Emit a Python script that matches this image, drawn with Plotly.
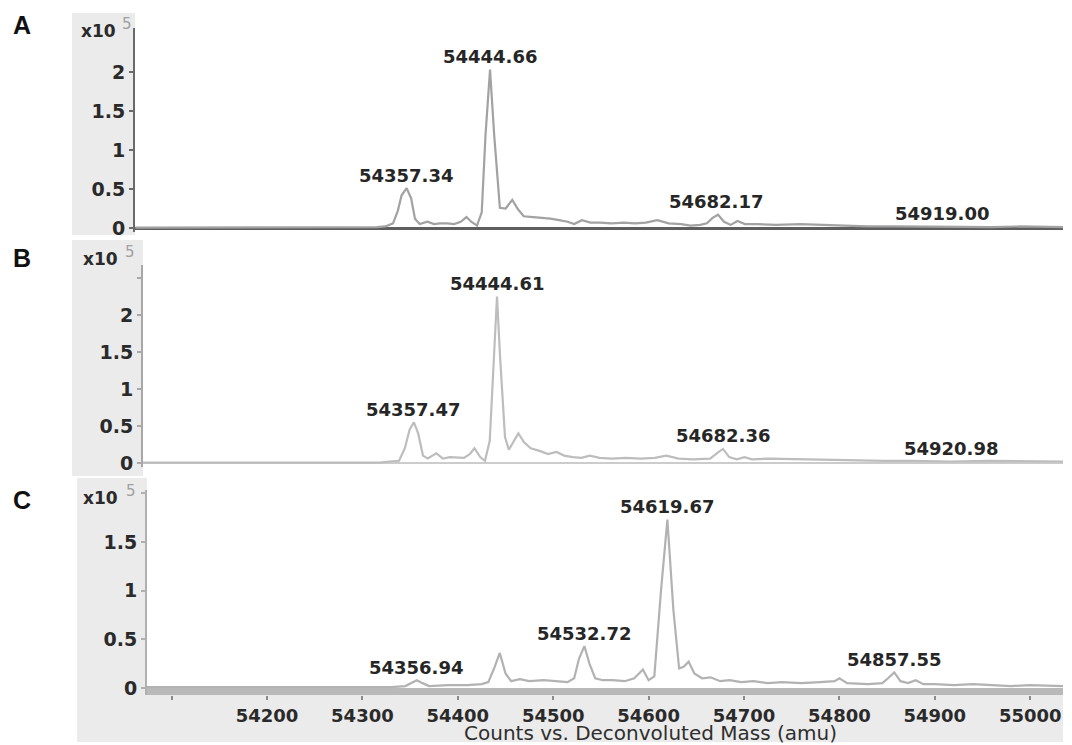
import plotly.graph_objects as go

# ---------------- data (mass in amu, counts in units of 1e5) ----------------
A_mass = [54073, 54200, 54300, 54326, 54335, 54343, 54348, 54352, 54357.3, 54362, 54366, 54371,
          54379, 54386, 54392, 54400, 54407, 54414, 54420, 54425, 54431, 54436, 54440, 54444.7,
          54449, 54455, 54461, 54468, 54474, 54480, 54490, 54500, 54508, 54517, 54526, 54533,
          54541, 54550, 54560, 54572, 54585, 54597, 54608, 54620, 54632, 54645, 54655, 54665,
          54672, 54678, 54683.7, 54690, 54697, 54704, 54712, 54725, 54745, 54770, 54800, 54815,
          54840, 54870, 54900, 54919, 54940, 54970, 55000, 55046]
A_int = [0.005, 0.005, 0.005, 0.01, 0.02, 0.06, 0.22, 0.42, 0.51, 0.38, 0.12, 0.05,
         0.08, 0.05, 0.06, 0.06, 0.05, 0.08, 0.14, 0.08, 0.03, 0.2, 1.2, 2.03,
         1.2, 0.26, 0.25, 0.36, 0.24, 0.15, 0.14, 0.13, 0.12, 0.1, 0.08, 0.05,
         0.1, 0.07, 0.07, 0.06, 0.07, 0.06, 0.07, 0.1, 0.06, 0.05, 0.03, 0.04,
         0.06, 0.13, 0.17, 0.08, 0.04, 0.09, 0.05, 0.05, 0.04, 0.05, 0.04, 0.03,
         0.02, 0.02, 0.015, 0.02, 0.015, 0.01, 0.02, 0.01]

B_mass = [54073, 54200, 54322, 54332, 54342, 54348, 54353, 54357.5, 54362, 54367, 54372, 54381,
          54388, 54395, 54403, 54410, 54416, 54421, 54427, 54432, 54437, 54441, 54444.6, 54448,
          54453, 54457, 54462, 54467, 54473, 54480, 54490, 54498, 54507, 54515, 54524, 54533,
          54542, 54552, 54565, 54580, 54595, 54610, 54622, 54635, 54650, 54668, 54676, 54681.5,
          54688, 54696, 54704, 54712, 54730, 54760, 54790, 54820, 54850, 54880, 54920, 54960,
          55000, 55040]
B_int = [0.005, 0.005, 0.005, 0.02, 0.03, 0.2, 0.45, 0.55, 0.4, 0.1, 0.06, 0.13,
         0.06, 0.08, 0.08, 0.07, 0.12, 0.2, 0.08, 0.03, 0.3, 1.4, 2.25, 1.4,
         0.35, 0.18, 0.3, 0.4, 0.28, 0.2, 0.16, 0.12, 0.15, 0.1, 0.08, 0.07,
         0.1, 0.07, 0.06, 0.07, 0.06, 0.07, 0.1, 0.06, 0.05, 0.06, 0.14, 0.19,
         0.08, 0.05, 0.08, 0.05, 0.06, 0.05, 0.05, 0.04, 0.03, 0.03, 0.02, 0.03,
         0.02, 0.02]

C_mass = [54074, 54200, 54330, 54345, 54352, 54357, 54363, 54370, 54390, 54410, 54425, 54432,
          54438, 54444, 54450, 54456, 54465, 54475, 54490, 54505, 54515, 54522, 54527, 54532.7,
          54538, 54544, 54552, 54562, 54575, 54585, 54594, 54600, 54606, 54613, 54619.7, 54626,
          54632, 54637, 54642, 54648, 54656, 54665, 54675, 54685, 54697, 54710, 54725, 54740,
          54760, 54780, 54795, 54800, 54808, 54830, 54845, 54851, 54857.5, 54864, 54872, 54880,
          54888, 54900, 54920, 54940, 54960, 54980, 55000, 55035]
C_int = [0.01, 0.01, 0.01, 0.02, 0.06, 0.08, 0.05, 0.02, 0.03, 0.03, 0.04, 0.06,
         0.2, 0.36, 0.15, 0.07, 0.09, 0.07, 0.08, 0.07, 0.06, 0.1, 0.3, 0.43,
         0.25, 0.1, 0.08, 0.08, 0.07, 0.1, 0.19, 0.08, 0.12, 1.0, 1.73, 0.8,
         0.2, 0.22, 0.27, 0.15, 0.1, 0.11, 0.07, 0.08, 0.06, 0.07, 0.05, 0.06,
         0.05, 0.06, 0.07, 0.1, 0.05, 0.04, 0.05, 0.1, 0.16, 0.07, 0.05, 0.08,
         0.04, 0.04, 0.03, 0.04, 0.03, 0.02, 0.03, 0.02]

A_labels = ["54357.34", "54444.66", "54682.17", "54919.00"]
A_label_mass = [54357.34, 54444.66, 54682.17, 54919.00]
A_label_h = [0.51, 2.03, 0.17, 0.02]
B_labels = ["54357.47", "54444.61", "54682.36", "54920.98"]
B_label_mass = [54357.47, 54444.61, 54682.36, 54920.98]
B_label_h = [0.55, 2.25, 0.19, 0.02]
C_labels = ["54356.94", "54532.72", "54619.67", "54857.55"]
C_label_mass = [54356.94, 54532.72, 54619.67, 54857.55]
C_label_h = [0.08, 0.43, 1.73, 0.16]

x_tick_vals = [54100, 54200, 54300, 54400, 54500, 54600, 54700, 54800, 54900, 55000]
x_tick_text = ["", "54200", "54300", "54400", "54500", "54600", "54700", "54800", "54900", "55000"]
panel_letters = ["A", "B", "C"]
x_title = "Counts vs. Deconvoluted Mass (amu)"

# ---------------- layout geometry (pixels) ----------------
W, H = 1072, 745
SCALE = 0.954  # px per amu


def px(x):
    return x / W


def py(y):
    return 1 - y / H


def xrange_for(left, right, ref_px, ref_mass):
    return [ref_mass + (left - ref_px) / SCALE, ref_mass + (right - ref_px) / SCALE]


panels = [
    dict(left=135, right=1063, y0=228, k=78.0, top=28, bottom=232, ref_px=490, ref_mass=54444.66,
         line="#a2a2a2", axis="#6a6a6a", zero="#5e5e5e", zw=2.5,
         ticks=[0, 0.5, 1, 1.5, 2], ttext=["0", "0.5", "1", "1.5", "2"]),
    dict(left=143, right=1063, y0=463, k=74.0, top=265, bottom=467, ref_px=497, ref_mass=54444.61,
         line="#bdbdbd", axis="#a8a8a8", zero="#cccccc", zw=2,
         ticks=[0, 0.5, 1, 1.5, 2, 2.5], ttext=["0", "0.5", "1", "1.5", "2", ""]),
    dict(left=147, right=1063, y0=688, k=97.3, top=490, bottom=695, ref_px=267, ref_mass=54200,
         line="#b2b2b2", axis="#b0b0b0", zero="#b0b0b0", zw=0,
         ticks=[0, 0.5, 1, 1.5, 2], ttext=["0", "0.5", "1", "1.5", ""]),
]
series = [(A_mass, A_int), (B_mass, B_int), (C_mass, C_int)]
labels = [(A_labels, A_label_mass, A_label_h), (B_labels, B_label_mass, B_label_h),
          (C_labels, C_label_mass, C_label_h)]

ytick_font = dict(family="DejaVu Sans", size=19, color="#2a2a2a", weight="bold")
xtick_font = dict(family="DejaVu Sans", size=18, color="#2a2a2a", weight="bold")
peak_font = dict(family="DejaVu Sans", size=18, color="#262626", weight="bold")

fig = go.Figure()
layout = dict(width=W, height=H, margin=dict(l=0, r=0, t=0, b=0, autoexpand=False),
              paper_bgcolor="white", plot_bgcolor="rgba(0,0,0,0)", showlegend=False)
shapes = []
annotations = []

gray = "#ebebeb"
for (x0, x1, y0, y1) in [(72, 135, 235, 13), (72, 143, 476, 240), (77, 147, 742, 478), (77, 1063, 742, 695)]:
    shapes.append(dict(type="rect", xref="paper", yref="paper", x0=px(x0), x1=px(x1), y0=py(y0), y1=py(y1),
                       fillcolor=gray, line=dict(width=0), layer="below"))
shapes.append(dict(type="rect", xref="paper", yref="paper", x0=px(147), x1=px(1063), y0=py(695), y1=py(688),
                   fillcolor="#b9b9b9", line=dict(width=0), layer="below"))

letter_y = [25, 258, 500]
x10_pos = [(118, 31, 127, 24), (120, 259, 130, 252), (120, 498, 131, 491)]

for i, p in enumerate(panels):
    sx = "" if i == 0 else str(i + 1)
    xa, ya = "xaxis" + sx, "yaxis" + sx
    xr = xrange_for(p["left"], p["right"], p["ref_px"], p["ref_mass"])
    yr = [(p["y0"] - p["bottom"]) / p["k"], (p["y0"] - p["top"]) / p["k"]]
    xdict = dict(domain=[px(p["left"]), px(p["right"])], range=xr, anchor="y" + sx, automargin=False,
                 showgrid=False, zeroline=False, showline=False)
    if i == 2:
        xdict.update(ticks="outside", ticklen=4, tickwidth=1.5, tickcolor="#8a8a8a",
                     tickvals=x_tick_vals, ticktext=x_tick_text, tickfont=xtick_font, ticklabelstandoff=0)
    else:
        xdict.update(showticklabels=False, ticks="")
    layout[xa] = xdict
    layout[ya] = dict(domain=[py(p["bottom"]), py(p["top"])], range=yr, anchor="x" + sx, automargin=False,
                      showgrid=False, showline=True, linecolor=p["axis"], linewidth=2,
                      ticks="outside", ticklen=4, tickwidth=1.5, tickcolor=p["axis"],
                      tickvals=p["ticks"], ticktext=p["ttext"], tickfont=ytick_font,
                      zeroline=p["zw"] > 0, zerolinecolor=p["zero"], zerolinewidth=max(p["zw"], 1))
    m, v = series[i]
    fig.add_trace(go.Scatter(x=m, y=v, mode="lines", xaxis="x" + sx, yaxis="y" + sx,
                             line=dict(color=p["line"], width=2.2), hoverinfo="skip"))
    txts, lm, lh = labels[i]
    for t, mm, hh in zip(txts, lm, lh):
        annotations.append(dict(text=t, x=mm, y=hh, xref="x" + sx, yref="y" + sx, showarrow=False,
                                xanchor="center", yanchor="middle", yshift=13, font=peak_font))
    annotations.append(dict(text=panel_letters[i], x=px(22), y=py(letter_y[i]), xref="paper", yref="paper",
                            showarrow=False, xanchor="center", yanchor="middle",
                            font=dict(family="Liberation Sans", size=25, color="#111111", weight="bold")))
    a, b, c, d = x10_pos[i]
    annotations.append(dict(text="x10", x=px(a), y=py(b), xref="paper", yref="paper", showarrow=False,
                            xanchor="right", yanchor="middle",
                            font=dict(family="DejaVu Sans", size=17, color="#2a2a2a", weight="bold")))
    annotations.append(dict(text="5", x=px(c), y=py(d), xref="paper", yref="paper", showarrow=False,
                            xanchor="center", yanchor="middle",
                            font=dict(family="DejaVu Sans", size=15, color="#a0a0a0")))

annotations.append(dict(text=x_title, x=px(650), y=py(733), xref="paper", yref="paper", showarrow=False,
                        xanchor="center", yanchor="middle",
                        font=dict(family="DejaVu Sans", size=20, color="#2e2e2e")))

layout["shapes"] = shapes
layout["annotations"] = annotations
fig.update_layout(**layout)
fig.write_html("out.html", config={"displayModeBar": False},
               post_script="document.body.style.margin='0px';document.body.style.overflow='hidden';")
